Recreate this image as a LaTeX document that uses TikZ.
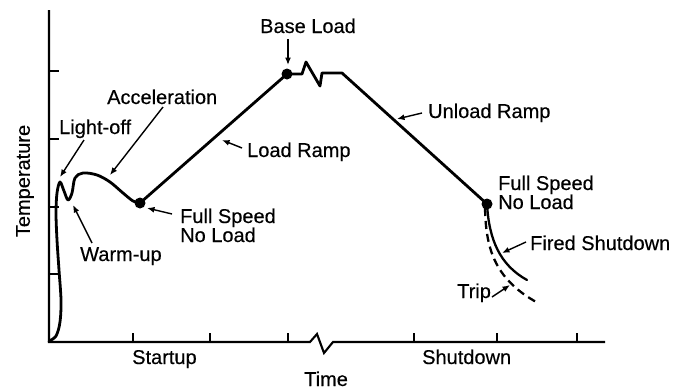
\documentclass[tikz,border=0pt]{standalone}
\usepackage{fontspec}
\setmainfont{Liberation Sans}
\newfontfamily\labelfont{Liberation Sans}[FakeBold=0.35]
\usetikzlibrary{arrows.meta}
\begin{document}
\begin{tikzpicture}[x=1pt,y=-1pt,
  axisline/.style={line width=2.1pt, line join=miter},
  tickline/.style={line width=1.6pt},
  curve/.style={line width=2.8pt, line join=round, line cap=round},
  pointer/.style={line width=1.4pt, -{Latex[length=7.5pt,width=6pt]}},
  lbl/.style={font=\labelfont\fontsize{20}{20}\selectfont, inner sep=0pt},
  dot/.style={circle, fill=black, minimum size=11pt, inner sep=0pt}]
\useasboundingbox (0,0) rectangle (681,389);

% axes with a break in the time axis
\draw[axisline] (49,10) -- (49,342) -- (310,342) -- (317,334) -- (324,353) -- (333,342) -- (605,342);
\foreach \y in {71,139,207,274} \draw[tickline] (49,\y) -- (59,\y);
\foreach \x in {133,210,288,414,497,577} \draw[tickline] (\x,342) -- (\x,333);

% operating points
\node[dot] (fsnlL) at (140,203) {};
\node[dot] (base) at (287,74) {};
\node[dot] (fsnlR) at (487,204) {};

% startup: light-off, warm-up, acceleration
\draw[curve] plot[smooth, tension=0.55] coordinates {(49,341) (56,336) (60,322) (61,300) (59,270) (57,240) (56,213) (57,193) (60,182) (64,191) (68,200) (72,193) (75,178) (83,173) (97,175) (110,182) (123,193) (133,201) (fsnlL.center)};

% load ramp, base load, unload ramp
\draw[curve] (fsnlL.center) -- (base.center) -- (302,74) -- (306,62) -- (320,86) -- (322,73) -- (342,73) -- (fsnlR.center);

% shutdown branches
\coordinate (firedEnd) at (527,280);
\coordinate (tripStart) at (485,208);
\coordinate (tripEnd) at (538,303);
\draw[curve, line width=2.3pt] (fsnlR.center) .. controls (489,240) and (500,265) .. (firedEnd);
\draw[line width=2.3pt, dash pattern=on 8pt off 5pt] (tripStart) .. controls (486,245) and (492,278) .. (tripEnd);

% labels
\node[lbl, rotate=90] (temp) at (25,181) {Temperature};
\node[lbl, anchor=base west] (lightoff) at (59,134) {Light-off};
\node[lbl, anchor=base west] (accel) at (107,104) {Acceleration};
\node[lbl, anchor=base west] (warmup) at (80,261) {Warm-up};
\node[lbl, anchor=base west] (fsL1) at (180,223) {Full Speed};
\node[lbl, anchor=base west] (fsL2) at (180,242) {No Load};
\node[lbl, anchor=base west] (loadramp) at (247,157) {Load Ramp};
\node[lbl, anchor=base west] (baseload) at (260,33) {Base Load};
\node[lbl, anchor=base west] (unload) at (428,118) {Unload Ramp};
\node[lbl, anchor=base west] (fsR1) at (498,190) {Full Speed};
\node[lbl, anchor=base west] (fsR2) at (498,209) {No Load};
\node[lbl, anchor=base west] (fired) at (530,250) {Fired Shutdown};
\node[lbl, anchor=base west] (trip) at (457,298) {Trip};
\node[lbl, anchor=base west] (startup) at (132,364) {Startup};
\node[lbl, anchor=base west] (shutdown) at (422,364) {Shutdown};
\node[lbl, anchor=base west] (time) at (304,386) {Time};

% pointer ends
\coordinate (lightoffT) at (84,140);  \coordinate (lightoffH) at (60,177);
\coordinate (accelT) at (163,107);    \coordinate (accelH) at (110,175);
\coordinate (warmupT) at (92,243);    \coordinate (warmupH) at (73,205);
\coordinate (fsLT) at (172,214);      \coordinate (fsLH) at (147,208);
\coordinate (loadT) at (242,148);     \coordinate (loadH) at (222,140);
\coordinate (baseT) at (288,39);      \coordinate (baseH) at (288,65);
\coordinate (unloadT) at (422,113);   \coordinate (unloadH) at (397,119);
\coordinate (firedT) at (526,242);    \coordinate (firedH) at (502,253);
\coordinate (tripT) at (492,297);     \coordinate (tripH) at (510,285);

\draw[pointer] (lightoffT) -- (lightoffH);
\draw[pointer] (accelT) -- (accelH);
\draw[pointer] (warmupT) -- (warmupH);
\draw[pointer] (fsLT) -- (fsLH);
\draw[pointer] (loadT) -- (loadH);
\draw[pointer] (baseT) -- (baseH);
\draw[pointer] (unloadT) -- (unloadH);
\draw[pointer] (firedT) -- (firedH);
\draw[pointer] (tripT) -- (tripH);
\end{tikzpicture}
\end{document}
